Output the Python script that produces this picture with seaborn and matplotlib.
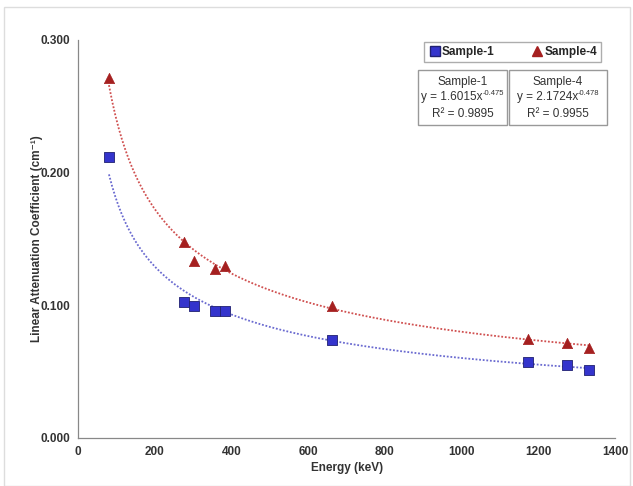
import numpy as np
import pandas as pd
import seaborn as sns
import matplotlib.pyplot as plt
from matplotlib.patches import Rectangle
from matplotlib.lines import Line2D

# gamma energies (keV)
energy = [81, 276, 303, 356, 384, 662, 1173, 1275, 1332]
sample1 = [0.212, 0.1025, 0.0995, 0.0960, 0.0960, 0.0740, 0.0573, 0.0550, 0.0513]
sample4 = [0.271, 0.1477, 0.1334, 0.1274, 0.1296, 0.0995, 0.0746, 0.0716, 0.0678]

# power-law fits as printed on the chart
fit1 = (1.6015, '-0.475', 0.9895)
fit4 = (2.1724, '-0.478', 0.9955)

sns.set_style("white")
plt.rcParams['font.family'] = ['Liberation Sans', 'DejaVu Sans']

df = pd.DataFrame({
    'Energy': energy * 2,
    'mu': sample1 + sample4,
    'Sample': ['Sample-1'] * len(energy) + ['Sample-4'] * len(energy),
})

xf = np.linspace(min(energy), max(energy), 300)
fits = pd.DataFrame({
    'Energy': np.concatenate([xf, xf]),
    'mu': np.concatenate([fit1[0] * xf ** float(fit1[1]), fit4[0] * xf ** float(fit4[1])]),
    'Sample': ['Sample-1'] * len(xf) + ['Sample-4'] * len(xf),
})

fig = plt.figure(figsize=(6.33, 4.86), dpi=100)
ax = fig.add_axes([0.123, 0.099, 0.849, 0.819])

line_cols = {'Sample-1': '#6a6ad0', 'Sample-4': '#d05050'}
sns.lineplot(data=fits, x='Energy', y='mu', hue='Sample', palette=line_cols,
             linestyle=(0, (1, 1)), linewidth=1.3, legend=False, ax=ax)

mark_cols = {'Sample-1': '#3434cc', 'Sample-4': '#a52020'}
sub1 = df[df['Sample'] == 'Sample-1']
sub4 = df[df['Sample'] == 'Sample-4']
sns.scatterplot(data=sub1, x='Energy', y='mu', marker='s', color=mark_cols['Sample-1'],
                s=55, edgecolor='#202070', linewidth=0.6, ax=ax, zorder=3)
sns.scatterplot(data=sub4, x='Energy', y='mu', marker='^', color=mark_cols['Sample-4'],
                s=55, edgecolor=mark_cols['Sample-4'], linewidth=0.5, ax=ax, zorder=3)

ax.set_xlim(0, 1400)
ax.set_ylim(0, 0.3)
ax.set_xticks(np.arange(0, 1401, 200))
ax.set_xticks(np.arange(0, 1401, 40), minor=True)
ax.set_yticks(np.arange(0, 0.301, 0.1))
ax.set_yticks(np.arange(0, 0.301, 0.02), minor=True)
ax.set_yticklabels([f"{v:.3f}" for v in np.arange(0, 0.301, 0.1)])
for s in ['top', 'right']:
    ax.spines[s].set_visible(False)
for s in ['left', 'bottom']:
    ax.spines[s].set_color('#888888')
    ax.spines[s].set_linewidth(0.9)
ax.tick_params(which='major', direction='inout', length=7, width=0.8, color='#888888',
               labelsize=8.5, pad=2)
ax.tick_params(which='minor', direction='inout', length=4, width=0.6, color='#888888')
for lab in ax.get_xticklabels() + ax.get_yticklabels():
    lab.set_fontweight('bold')
    lab.set_color('#333333')
ax.set_xlabel('Energy (keV)', fontsize=8.5, fontweight='bold', color='#333333', labelpad=3)
ax.set_ylabel('Linear Attenuation Coefficient (cm⁻¹)', fontsize=8.5,
              fontweight='bold', color='#333333', labelpad=-2)

# legend box
handles = [Line2D([], [], marker='s', color='none', markerfacecolor=mark_cols['Sample-1'],
                  markeredgecolor='#202070', markersize=7, label='Sample-1'),
           Line2D([], [], marker='^', color='none', markerfacecolor=mark_cols['Sample-4'],
                  markeredgecolor=mark_cols['Sample-4'], markersize=7, label='Sample-4')]
leg = fig.legend(handles=handles, ncol=2, loc='lower left',
                 bbox_to_anchor=(0.660, 0.860, 0.299, 0.047), mode='expand',
                 frameon=True, fancybox=False, edgecolor='#999999', handletextpad=0.0,
                 columnspacing=1.0, handlelength=1.2, borderpad=0.35,
                 prop={'weight': 'bold', 'size': 8.5})
leg.get_frame().set_linewidth(1.0)

# equation boxes
renderer = fig.canvas.get_renderer()
for x0, x1, name, (a, b, r2) in [(0.660, 0.801, 'Sample-1', fit1),
                                 (0.804, 0.959, 'Sample-4', fit4)]:
    fig.patches.append(Rectangle((x0, 0.743), x1 - x0, 0.113, transform=fig.transFigure,
                                 facecolor='white', edgecolor='#999999', linewidth=1.0))
    xc = (x0 + x1) / 2
    fig.text(xc, 0.832, name, ha='center', va='center', fontsize=8.5, color='#333333')
    main = fig.text(0, 0.800, f"y = {a:.4f}x", ha='left', va='center',
                    fontsize=8.5, color='#333333')
    sup = fig.text(0, 0.808, b, ha='left', va='center', fontsize=5.5, color='#333333')
    w_main = main.get_window_extent(renderer).width / fig.bbox.width
    w_sup = sup.get_window_extent(renderer).width / fig.bbox.width
    start = xc - (w_main + w_sup) / 2
    main.set_x(start)
    sup.set_x(start + w_main)
    fig.text(xc, 0.765, f"R² = {r2:.4f}", ha='center', va='center', fontsize=8.5,
             color='#333333')

# faint outer frame like the source image
fig.patches.append(Rectangle((0.006, 0.0), 0.99, 0.985, transform=fig.transFigure,
                             facecolor='none', edgecolor='#dddddd', linewidth=1.0))

fig.savefig('out.png', dpi=100)
